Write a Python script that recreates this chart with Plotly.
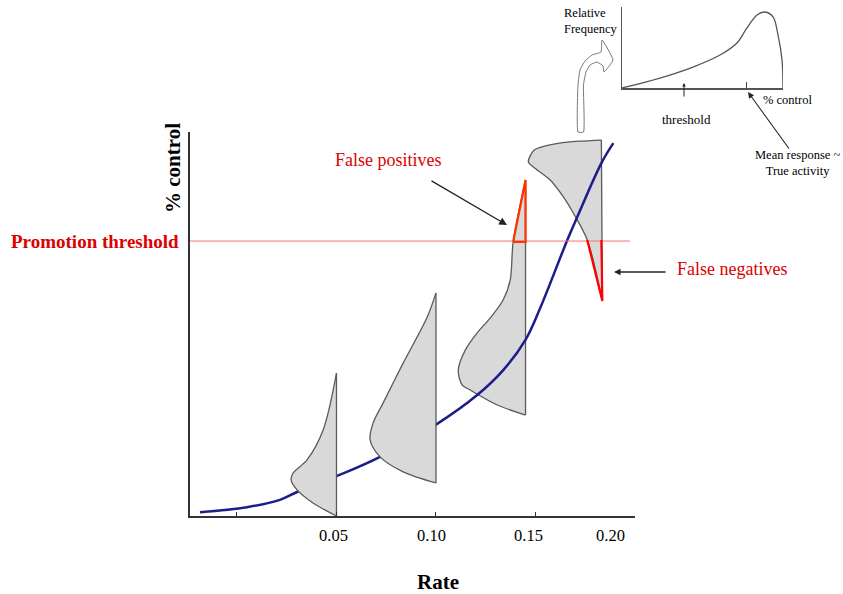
import plotly.graph_objects as go

W, H = 843, 594
SERIF = "Liberation Serif"

# ---------------- data ----------------
x_ticks = [0.0, 0.05, 0.10, 0.15, 0.20]
x_tick_labels = ["", "0.05", "0.10", "0.15", "0.20"]
threshold = 71.6

# mean response curve (rate vs % control)
curve_rate = [-0.0186, 0.005, 0.0216, 0.0302, 0.0493, 0.0719, 0.1006, 0.1207, 0.1338,
              0.1449, 0.1524, 0.166, 0.171, 0.1831, 0.1891]
curve_control = [1.0, 2.3, 4.2, 6.25, 10.2, 15.4, 24.0, 31.5, 38.0,
                 45.8, 54.2, 71.9, 77.9, 91.9, 97.1]

# response distributions (half-violins): outer curve from top to bottom,
# closed by the vertical edge at the dose
dist1_rate = [0.05, 0.0433, 0.0352, 0.0282, 0.0272, 0.0302, 0.0382, 0.05]
dist1_control = [37.2, 22.4, 14.6, 11.2, 9.4, 6.8, 3.4, 0.0]

dist2_rate = [0.10, 0.0956, 0.0835, 0.0734, 0.0684, 0.0669, 0.0719, 0.0835, 0.10]
dist2_control = [58.1, 51.8, 39.8, 29.4, 24.2, 19.8, 15.4, 11.5, 8.6]

dist3_rate = [0.145, 0.1388, 0.1373, 0.1338, 0.1273, 0.1207, 0.1147, 0.1112, 0.1132,
              0.1172, 0.1308, 0.145]
dist3_control = [87.5, 71.4, 61.5, 56.3, 51.6, 47.7, 43.2, 38.0, 34.1,
                 32.8, 28.9, 26.3]

dist4_rate = [0.1831, 0.172, 0.162, 0.1545, 0.1494, 0.1464, 0.1489, 0.1574, 0.164,
              0.169, 0.176, 0.1836]
dist4_control = [97.9, 97.6, 97.1, 96.3, 95.3, 92.2, 90.9, 87.5, 83.1,
                 78.9, 71.9, 56.0]

false_pos_rate = [0.1388, 0.145, 0.145, 0.1388]
false_pos_control = [71.4, 87.5, 71.4, 71.4]

false_neg_rate = [0.176, 0.1836, 0.1831]
false_neg_control = [71.9, 56.0, 71.9]

# inset: relative frequency vs % control
inset_x = [0, 23.6, 44.1, 60.9, 71.4, 77.6, 83.9, 88.8, 93.8, 96.9, 99.4, 100]
inset_y = [0, 0.123, 0.259, 0.407, 0.556, 0.741, 0.901, 0.938, 0.877, 0.654, 0.346, 0]
inset_mean = 77.6

# hollow curved arrow outline (figure pixel frame)
harrow_x = [578, 578, 580, 585, 592, 601, 602, 613, 604, 603, 597, 590, 586, 583.5, 583.5, 578]
harrow_y = [132, 85, 70, 61, 55, 52, 40, 60, 72, 66, 62, 65, 72, 85, 132, 132]

# ---------------- figure ----------------
fig = go.Figure()

GRAY_FILL = "#d9d9d9"
GRAY_LINE = "#5a5a5a"


def add_dist(xs, ys):
    fig.add_trace(go.Scatter(x=xs, y=ys, mode="lines", fill="toself", fillcolor=GRAY_FILL,
                             line=dict(color=GRAY_LINE, width=1.3, shape="spline",
                                       smoothing=0.9),
                             hoverinfo="skip", showlegend=False))
    fig.add_trace(go.Scatter(x=[xs[0], xs[-1]], y=[ys[0], ys[-1]], mode="lines",
                             line=dict(color=GRAY_LINE, width=1.3),
                             hoverinfo="skip", showlegend=False))


add_dist(dist3_rate, dist3_control)
add_dist(dist4_rate, dist4_control)
fig.add_trace(go.Scatter(x=curve_rate, y=curve_control, mode="lines",
                         line=dict(color="#1c1c8a", width=2.5, shape="spline"),
                         hoverinfo="skip", showlegend=False))
add_dist(dist1_rate, dist1_control)
add_dist(dist2_rate, dist2_control)

# threshold line
fig.add_trace(go.Scatter(x=[-0.0236, 0.1975], y=[threshold, threshold], mode="lines",
                         line=dict(color="#ff7070", width=1), hoverinfo="skip",
                         showlegend=False))
# false positives / negatives outlines
fig.add_trace(go.Scatter(x=false_pos_rate, y=false_pos_control, mode="lines",
                         line=dict(color="#ff3300", width=2.2), hoverinfo="skip",
                         showlegend=False))
fig.add_trace(go.Scatter(x=false_neg_rate, y=false_neg_control, mode="lines",
                         line=dict(color="#ff0000", width=2.2), hoverinfo="skip",
                         showlegend=False))

# inset curve
fig.add_trace(go.Scatter(x=inset_x, y=inset_y, mode="lines",
                         line=dict(color="#555555", width=1.3, shape="spline"),
                         hoverinfo="skip", showlegend=False, xaxis="x2", yaxis="y2"))

# hollow arrow
fig.add_trace(go.Scatter(x=harrow_x, y=harrow_y, mode="lines",
                         line=dict(color="#777777", width=1, shape="spline", smoothing=0.4),
                         hoverinfo="skip", showlegend=False, xaxis="x3", yaxis="y3"))


def px(x):
    return x / W


def py(y):
    return 1 - y / H


annotations = []


def text(t, x, y, size, color="black", bold=False, angle=0, anchor="center"):
    annotations.append(dict(text=f"<b>{t}</b>" if bold else t, x=px(x), y=py(y),
                            xref="paper", yref="paper", showarrow=False,
                            font=dict(family=SERIF, size=size, color=color),
                            textangle=angle, xanchor=anchor, yanchor="middle",
                            align=anchor))


def arrow(hx, hy, tx, ty, size=1.0, width=1.3):
    annotations.append(dict(text="", x=px(hx), y=py(hy), xref="paper", yref="paper",
                            ax=tx - hx, ay=ty - hy, showarrow=True, arrowhead=2,
                            arrowsize=size, arrowwidth=width, arrowcolor="#222222"))


RED = "#dd0000"
text("Promotion threshold", 95, 241, 19, RED, bold=True)
text("% control", 173, 168, 21, bold=True, angle=-90)
text("Rate", 438, 582, 21, bold=True)
text("False positives", 388, 160, 18, RED)
text("False negatives", 732, 269, 18, RED)

# tick labels (slightly left of their ticks, as in the original)
label_shift = {"0.05": -0.0015, "0.10": -0.0025, "0.15": -0.0035, "0.20": -0.0125}
for v, lab in zip(x_ticks, x_tick_labels):
    if lab:
        annotations.append(dict(text=lab, x=v + label_shift[lab], y=0, xref="x", yref="y",
                                yshift=-19, showarrow=False,
                                font=dict(family=SERIF, size=16.5, color="black")))

arrow(507, 225, 430, 180, size=1.2)
arrow(614, 272, 667, 272, size=1.0)

# inset texts
text("Relative<br>Frequency", 562, 21, 12.5, anchor="left")
text("threshold", 686, 120, 13)
text("% control", 787, 100, 12.5)
text("Mean response ~<br>True activity", 797, 163, 12.5)
arrow(684, 83, 684, 98, size=0.7, width=1)
arrow(748, 92, 790, 150, size=1.1, width=1.1)

fig.update_layout(
    width=W, height=H,
    margin=dict(l=0, r=0, t=0, b=0),
    paper_bgcolor="white", plot_bgcolor="rgba(0,0,0,0)",
    showlegend=False,
    annotations=annotations,
    xaxis=dict(domain=[190 / W, 635 / W], range=[-0.0236, 0.2], showline=True,
               linecolor="#333333", linewidth=1.5, tickvals=x_ticks,
               ticktext=["" for _ in x_ticks], ticks="inside", ticklen=4,
               tickcolor="#333333", showgrid=False, zeroline=False),
    yaxis=dict(domain=[1 - 516 / H, 1 - 132 / H], range=[0, 100], showline=True,
               linecolor="#333333", linewidth=1.5, showticklabels=False, ticks="",
               showgrid=False, zeroline=False),
    xaxis2=dict(domain=[622 / W, 783 / W], range=[0, 100], anchor="y2", showline=True,
                linecolor="#555555", linewidth=1.5, tickvals=[inset_mean], ticktext=[""],
                ticks="inside", ticklen=6, tickcolor="#444444", showgrid=False,
                zeroline=False),
    yaxis2=dict(domain=[1 - 88 / H, 1 - 7 / H], range=[0, 1], anchor="x2", showline=True,
                linecolor="#555555", linewidth=1.2, showticklabels=False, ticks="",
                showgrid=False, zeroline=False),
    xaxis3=dict(domain=[0, 1], range=[0, W], anchor="y3", visible=False),
    yaxis3=dict(domain=[0, 1], range=[H, 0], anchor="x3", visible=False),
)

fig.write_html("out.html", config={"displayModeBar": False},
               post_script="document.body.style.margin='0';document.body.style.padding='0';")
